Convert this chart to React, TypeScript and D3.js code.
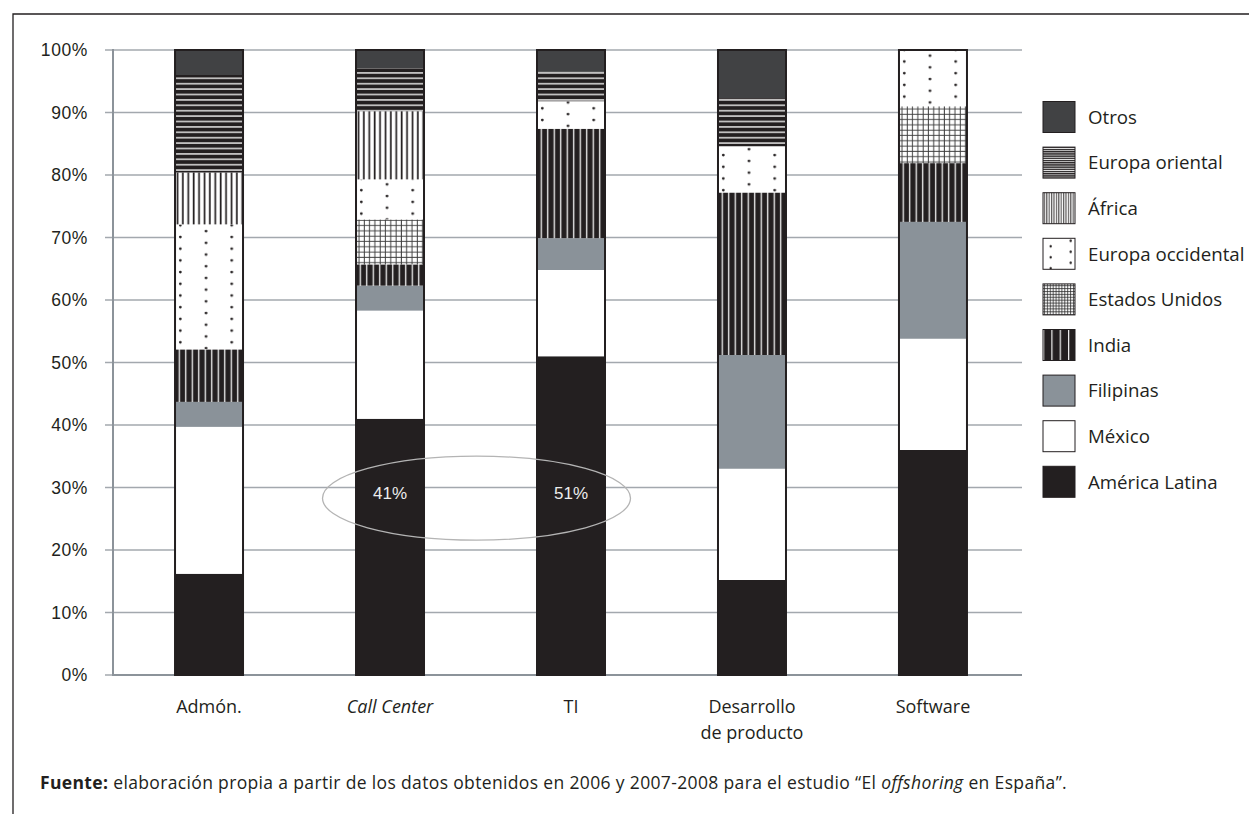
import React from "react";
import * as d3 from "d3";

// Offshoring destinations by activity (share of projects, %)
const categories = ["Admón.", "Call Center", "TI", "Desarrollo de producto", "Software"];
const categoryLines = [["Admón."], ["Call Center"], ["TI"], ["Desarrollo", "de producto"], ["Software"]];
const italicCategories = ["Call Center"];

const seriesKeys = [
  "América Latina",
  "México",
  "Filipinas",
  "India",
  "Estados Unidos",
  "Europa occidental",
  "África",
  "Europa oriental",
  "Otros",
];

const americaLatina = [16.2, 41, 51, 15.2, 36.0];
const mexico = [23.5, 17.3, 13.8, 17.8, 17.8];
const filipinas = [4.0, 4.0, 5.1, 18.2, 18.7];
const india = [8.4, 3.4, 17.5, 26.0, 9.4];
const estadosUnidos = [0, 7.2, 0, 0, 9.1];
const europaOccidental = [20.0, 6.4, 4.4, 7.4, 9.0];
const africa = [8.3, 10.9, 0, 0, 0];
const europaOriental = [15.6, 6.9, 4.7, 7.7, 0];
const otros = [4.0, 2.9, 3.5, 7.7, 0];

const yTicks = [0, 10, 20, 30, 40, 50, 60, 70, 80, 90, 100];
const highlightedCategories = ["Call Center", "TI"];

const seriesValues: Record<string, number[]> = {
  "América Latina": americaLatina,
  "México": mexico,
  "Filipinas": filipinas,
  "India": india,
  "Estados Unidos": estadosUnidos,
  "Europa occidental": europaOccidental,
  "África": africa,
  "Europa oriental": europaOriental,
  "Otros": otros,
};

const INK = "#231f20";
const GRID = "#a3a8ae";
const AXIS = "#8c939a";

const W = 1249;
const H = 814;

type Row = { category: string; [k: string]: number | string };

const rows: Row[] = categories.map((c, i) => {
  const r: Row = { category: c };
  seriesKeys.forEach((k) => (r[k] = seriesValues[k][i]));
  return r;
});

const stack = d3.stack<Row>().keys(seriesKeys).value((d, k) => d[k] as number);
const stacked = stack(rows);

const y = d3.scaleLinear().domain([0, 100]).range([675, 50]);
const x = d3
  .scaleBand<string>()
  .domain(categories)
  .range([115.3, 1026.7])
  .paddingInner(1 - 68 / 181)
  .paddingOuter(0.33);

const GRID_X0 = 105;
const AXIS_X = 113;
const GRID_X1 = 1022;

const solidFills: Record<string, string> = {
  "América Latina": INK,
  "México": "#ffffff",
  "Filipinas": "#8a9299",
  "Otros": "#414244",
};

const patternPrefix: Record<string, string> = {
  "India": "india",
  "Estados Unidos": "grid",
  "Europa occidental": "dots",
  "África": "vlines",
  "Europa oriental": "hlines",
};

function fillFor(key: string, suffix: string) {
  if (solidFills[key]) return solidFills[key];
  return `url(#${patternPrefix[key]}-${suffix})`;
}

// Hatch patterns used inside the bars, anchored to each bar's left edge
function barPatterns(suffix: string, x0: number) {
  return (
    <g key={suffix}>
      <pattern id={`india-${suffix}`} patternUnits="userSpaceOnUse" x={x0} y={0} width={6.5} height={10}>
        <rect width={6.5} height={10} fill={INK} />
        <rect x={3.6} width={1.3} height={10} fill="#f4f4f4" />
      </pattern>
      <pattern id={`vlines-${suffix}`} patternUnits="userSpaceOnUse" x={x0} y={0} width={5.4} height={10}>
        <rect width={5.4} height={10} fill="#ffffff" />
        <rect x={1.6} width={1.7} height={10} fill={INK} />
      </pattern>
      <pattern id={`hlines-${suffix}`} patternUnits="userSpaceOnUse" x={x0} y={0} width={10} height={5.4}>
        <rect width={10} height={5.4} fill={INK} />
        <rect y={2} width={10} height={1.4} fill="#ececec" />
      </pattern>
      <pattern id={`grid-${suffix}`} patternUnits="userSpaceOnUse" x={x0} y={0} width={5.3} height={5.3}>
        <rect width={5.3} height={5.3} fill="#ffffff" />
        <rect x={2.5} width={0.9} height={5.3} fill="#2a2a2a" />
        <rect y={2.5} width={5.3} height={0.9} fill="#3a3a3a" />
      </pattern>
      <pattern id={`dots-${suffix}`} patternUnits="userSpaceOnUse" x={x0} y={0} width={51.4} height={11.7}>
        <rect width={51.4} height={11.7} fill="#ffffff" />
        <circle cx={5.3} cy={3} r={1.4} fill={INK} />
        <circle cx={31} cy={8.85} r={1.4} fill={INK} />
      </pattern>
    </g>
  );
}

const LEGEND_X = 1043;
const LEGEND_W = 32;
const LEGEND_H = 31;
const LEGEND_Y0 = 117;
const LEGEND_STEP = 45.6;
const legendOrder = [...seriesKeys].reverse();

function legendPatterns(x0: number, dotsY: number) {
  return (
    <g>
      <pattern id="india-legend" patternUnits="userSpaceOnUse" x={x0} y={0} width={8.33} height={10}>
        <rect width={8.33} height={10} fill={INK} />
        <rect x={-0.2} width={1.4} height={10} fill="#f4f4f4" />
      </pattern>
      <pattern id="vlines-legend" patternUnits="userSpaceOnUse" x={x0} y={0} width={2.4} height={10}>
        <rect width={2.4} height={10} fill="#ffffff" />
        <rect x={1} width={0.9} height={10} fill={INK} />
      </pattern>
      <pattern id="hlines-legend" patternUnits="userSpaceOnUse" x={x0} y={0} width={10} height={2.2}>
        <rect width={10} height={2.2} fill={INK} />
        <rect y={0.6} width={10} height={0.9} fill="#e0e0e0" />
      </pattern>
      <pattern id="grid-legend" patternUnits="userSpaceOnUse" x={x0} y={0} width={2.9} height={2.9}>
        <rect width={2.9} height={2.9} fill="#ffffff" />
        <rect x={1.2} width={0.8} height={2.9} fill="#2a2a2a" />
        <rect y={1.2} width={2.9} height={0.8} fill="#2a2a2a" />
      </pattern>
      <pattern id="dots-legend" patternUnits="userSpaceOnUse" x={x0} y={dotsY} width={40} height={11}>
        <rect width={40} height={11} fill="#ffffff" />
        <circle cx={7.7} cy={8} r={1.2} fill={INK} />
        <circle cx={27.7} cy={2.5} r={1.2} fill={INK} />
      </pattern>
    </g>
  );
}

export default function App() {
  const bw = x.bandwidth();
  const textFont = "'Open Sans', 'DejaVu Sans', sans-serif";
  const numFont = "'Liberation Sans', Arial, sans-serif";

  const ccCenter = (x(highlightedCategories[0]) as number) + bw / 2;
  const tiCenter = (x(highlightedCategories[1]) as number) + bw / 2;
  const dotsIndex = legendOrder.indexOf("Europa occidental");
  const dotsSwatchY = LEGEND_Y0 + dotsIndex * LEGEND_STEP - LEGEND_H / 2;

  return (
    <div style={{ position: "absolute", left: 0, top: 0, width: W, height: H, background: "#fff" }}>
      <svg width={W} height={H} viewBox={`0 0 ${W} ${H}`} style={{ display: "block" }}>
        <defs>
          {categories.map((c, i) => barPatterns(String(i), x(c) as number))}
          {legendPatterns(LEGEND_X, dotsSwatchY)}
        </defs>

        {/* frame */}
        <path d={`M13,${H} L13,14 L${W},14`} fill="none" stroke={INK} strokeWidth={1.3} />

        {/* gridlines and y ticks */}
        {yTicks.map((t) => (
          <g key={t}>
            <line x1={GRID_X0} x2={GRID_X1} y1={y(t)} y2={y(t)} stroke={GRID} strokeWidth={1.4} />
            <text
              x={88}
              y={y(t)}
              dy="0.36em"
              textAnchor="end"
              fontFamily={numFont}
              fontSize={17.5}
              letterSpacing={0.6}
              fill={INK}
            >
              {`${t}%`}
            </text>
          </g>
        ))}

        {/* axes */}
        <line x1={AXIS_X} x2={AXIS_X} y1={y(100) - 1} y2={y(0)} stroke={AXIS} strokeWidth={2} />
        <line x1={AXIS_X - 1} x2={GRID_X1} y1={y(0)} y2={y(0)} stroke={AXIS} strokeWidth={2} />

        {/* stacked bars */}
        {categories.map((c, i) => {
          const x0 = x(c) as number;
          return (
            <g key={c}>
              {stacked.map((layer) => {
                const d = layer[i];
                const h = y(d[0]) - y(d[1]);
                if (h <= 0) return null;
                return (
                  <rect
                    key={layer.key}
                    x={x0}
                    y={y(d[1])}
                    width={bw}
                    height={h}
                    fill={fillFor(layer.key, String(i))}
                  />
                );
              })}
              <rect
                x={x0}
                y={y(100)}
                width={bw}
                height={y(0) - y(100)}
                fill="none"
                stroke={INK}
                strokeWidth={2}
              />
            </g>
          );
        })}

        {/* highlighted values */}
        <ellipse
          cx={(ccCenter + tiCenter) / 2 - 4}
          cy={y(28.3)}
          rx={154}
          ry={42}
          fill="none"
          stroke="#b4b4b4"
          strokeWidth={1.3}
        />
        {highlightedCategories.map((c) => {
          const i = categories.indexOf(c);
          return (
            <text
              key={c}
              x={(x(c) as number) + bw / 2}
              y={y(29.2)}
              dy="0.36em"
              textAnchor="middle"
              fontFamily={numFont}
              fontSize={17}
              fill="#ececec"
            >
              {`${americaLatina[i]}%`}
            </text>
          );
        })}

        {/* category labels */}
        {categories.map((c, i) => (
          <text
            key={c}
            x={(x(c) as number) + bw / 2}
            y={713}
            textAnchor="middle"
            fontFamily={textFont}
            fontSize={18}
            fontStyle={italicCategories.includes(c) ? "italic" : "normal"}
            fill={INK}
          >
            {categoryLines[i].map((line, j) => (
              <tspan key={j} x={(x(c) as number) + bw / 2} dy={j === 0 ? 0 : 26}>
                {line}
              </tspan>
            ))}
          </text>
        ))}

        {/* legend */}
        {legendOrder.map((k, j) => {
          const cy = LEGEND_Y0 + j * LEGEND_STEP;
          return (
            <g key={k}>
              <rect
                x={LEGEND_X}
                y={cy - LEGEND_H / 2}
                width={LEGEND_W}
                height={LEGEND_H}
                fill={fillFor(k, "legend")}
                stroke={INK}
                strokeWidth={1}
              />
              <text x={1088} y={cy} dy="0.36em" fontFamily={textFont} fontSize={18.7} fill={INK}>
                {k}
              </text>
            </g>
          );
        })}

        {/* source note */}
        <text x={40} y={789} fontFamily={textFont} fontSize={17.5} letterSpacing={0.35} fill={INK}>
          <tspan fontWeight="bold">Fuente:</tspan>
          <tspan>{" elaboración propia a partir de los datos obtenidos en 2006 y 2007-2008 para el estudio “El "}</tspan>
          <tspan fontStyle="italic">offshoring</tspan>
          <tspan>{" en España”."}</tspan>
        </text>
      </svg>
    </div>
  );
}
